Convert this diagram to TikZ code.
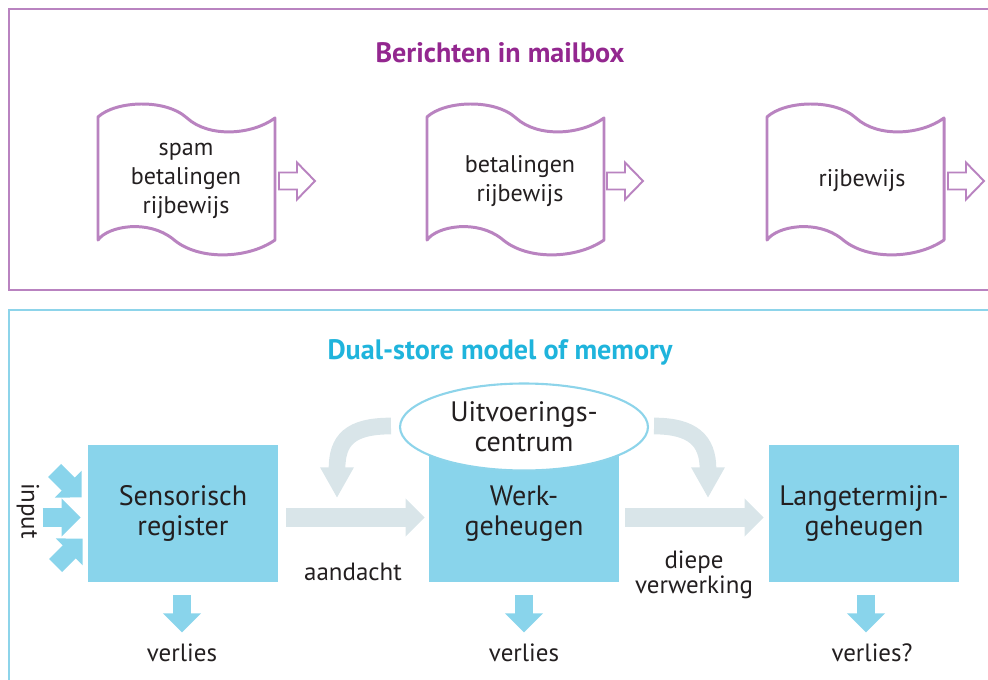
\documentclass[tikz,border=0pt]{standalone}
\usepackage{fontspec}
\setmainfont{PT Sans}
\usetikzlibrary{calc,arrows.meta,shapes.geometric}

\definecolor{mailframe}{HTML}{B983C0}
\definecolor{mailtitle}{HTML}{93278F}
\definecolor{memframe}{HTML}{8DD4EA}
\definecolor{memtitle}{HTML}{1FB4DC}
\definecolor{boxblue}{HTML}{89D4EB}
\definecolor{flowgray}{HTML}{D9E5E9}
\definecolor{inktext}{HTML}{231F20}

\tikzset{
  doctext/.style={align=center, text=inktext, font=\fontsize{13.7}{16.4}\selectfont},
  docline/.style={draw=mailframe, line width=1.7pt, line join=round},
  hollowarrow/.style={draw=mailframe, line width=1.1pt, fill=white},
  memorybox/.style={fill=boxblue, minimum width=3.8cm, minimum height=2.74cm,
    align=center, text=inktext, font=\fontsize{16}{17}\selectfont},
  memlabel/.style={text=inktext, align=center, font=\fontsize{14.2}{14.5}\selectfont},
  flowarrow/.style={draw=flowgray, line width=11pt,
    -{Triangle[width=21pt,length=10.8pt]}},
  bendarrow/.style={draw=flowgray, line width=9.5pt,
    -{Triangle[width=18pt,length=17.5pt]}},
  lossarrow/.style={draw=boxblue, line width=10.5pt,
    -{Triangle[width=21pt,length=10.8pt]}},
}

% wavy mail document, #1 = left x, #2 = top y
\newcommand\maildoc[2]{%
  \draw[docline, shift={(#1,#2)}] (0,0)
    .. controls (17,-16) and (67,-19) .. (89,1)
    .. controls (111,21) and (154,18) .. (177,1)
    -- (177,123)
    .. controls (150,142) and (100,144) .. (75,122)
    .. controls (50,102) and (10,109) .. (0,123) -- cycle;}

% hollow arrow pointing right, #1 = left x, #2 = mid y
\newcommand\mailarrow[2]{%
  \draw[hollowarrow, shift={(#1,#2)}] (0,-8.5) -- (18,-8.5) -- (18,-18.5)
    -- (36,0) -- (18,18.5) -- (18,8.5) -- (0,8.5) -- cycle;}

\begin{document}
\begin{tikzpicture}[x=0.02cm, y=-0.02cm]
  \useasboundingbox (0,0) rectangle (988,680);
  \clip (0,0) rectangle (988,680);

  % Berichten in mailbox
  \draw[draw=mailframe, line width=1.7pt] (9,9) rectangle (1010,290);
  \node[font=\bfseries\fontsize{16}{18}\selectfont, text=mailtitle] (mailtitle) at (500,53) {Berichten in mailbox};

  \maildoc{98}{117}
  \maildoc{427}{117}
  \maildoc{767}{117}
  \node[doctext] (doc1) at (186,181) {spam\\betalingen\\rijbewijs};
  \node[doctext] (doc2) at (520,181) {betalingen\\rijbewijs};
  \node[doctext] (doc3) at (862,181) {rijbewijs};
  \mailarrow{279}{181}
  \mailarrow{607}{181}
  \mailarrow{948}{181}

  % Dual-store model of memory
  \draw[draw=memframe, line width=1.7pt] (9,310) rectangle (1010,700);
  \node[font=\bfseries\fontsize{16}{18}\selectfont, text=memtitle] (memtitle) at (500,352) {Dual-store model of memory};

  \node[memorybox] (sr) at (183,513.5) {Sensorisch\\register};
  \node[memorybox] (wg) at (524,513.5) {Werk-\\geheugen};
  \node[memorybox] (lt) at (864,513.5) {Langetermijn-\\geheugen};
  \node[ellipse, draw=memframe, line width=1.2pt, fill=white, minimum width=4.96cm,
    minimum height=1.74cm, inner sep=0pt, align=center, text=inktext,
    font=\fontsize{16}{17}\selectfont] (ue) at (524,427) {Uitvoerings-\\centrum};

  % flow between stores
  \draw[flowarrow] ($(sr.east)+(8,4)$) -- ($(wg.west)+(-4,4)$);
  \draw[flowarrow] ($(wg.east)+(6,4)$) -- ($(lt.west)+(-5,4)$);
  \coordinate (bendL) at (337,498);
  \coordinate (bendR) at (708,498);
  \draw[bendarrow] ($(ue.west)+(-8,-1)$) .. controls (350,426) and (337,440) .. (bendL);
  \draw[bendarrow] ($(ue.east)+(5,-1)$) .. controls (692,426) and (708,440) .. (bendR);
  \node[memlabel] (att) at (353,572) {aandacht};
  \node[memlabel] (deep) at (694,575) {diepe\\verwerking};

  % input
  \node[memlabel, rotate=-90] (input) at (28,511) {input};
  \draw[lossarrow] ($(sr.west)+(-33,-43)$) -- ($(sr.west)+(-6,-16)$);
  \draw[lossarrow] ($(sr.west)+(-45,4)$) -- ($(sr.west)+(-7,4)$);
  \draw[lossarrow] ($(sr.west)+(-32,52)$) -- ($(sr.west)+(-5,25)$);

  % verlies
  \draw[lossarrow] ($(sr.south)+(-1,13)$) -- ($(sr.south)+(-1,50)$);
  \draw[lossarrow] ($(wg.south)+(0,13)$) -- ($(wg.south)+(0,50)$);
  \draw[lossarrow] ($(lt.south)+(2,13)$) -- ($(lt.south)+(2,50)$);
  \node[memlabel] (loss1) at (182,653) {verlies};
  \node[memlabel] (loss2) at (524,653) {verlies};
  \node[memlabel] (loss3) at (872,653) {verlies?};
\end{tikzpicture}
\end{document}
